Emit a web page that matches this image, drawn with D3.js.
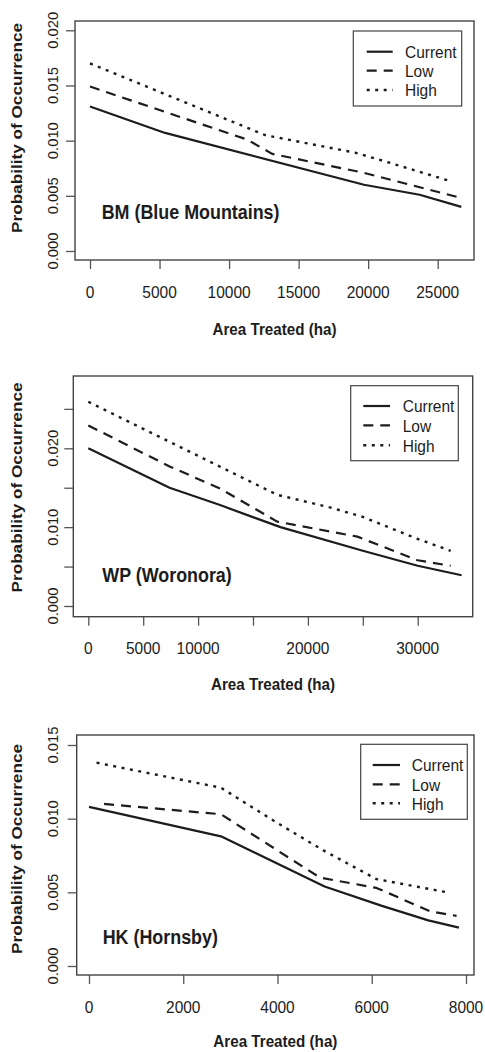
<!DOCTYPE html>
<html><head><meta charset="utf-8">
<script src="https://cdn.jsdelivr.net/npm/d3@7"></script>
<style>html,body{margin:0;padding:0;background:#fff}</style>
</head><body>
<svg id="c" width="485" height="1052"></svg>
<script>
// ---------------- data ----------------
const seriesNames = ["Current", "Low", "High"];
const xTitle = "Area Treated (ha)";
const yTitle = "Probability of Occurrence";

// BM (Blue Mountains)
const bmLabel = "BM (Blue Mountains)";
const bmXTicks = [0, 5000, 10000, 15000, 20000, 25000];
const bmXLabels = ["0", "5000", "10000", "15000", "20000", "25000"];
const bmYTicks = [0, 0.005, 0.010, 0.015, 0.020];
const bmYLabels = ["0.000", "0.005", "0.010", "0.015", "0.020"];
const bmCurrentX = [0, 5400, 19700, 23700, 26700];
const bmCurrentY = [0.0131, 0.0107, 0.0060, 0.0051, 0.0040];
const bmLowX = [0, 11300, 13100, 19650, 26400];
const bmLowY = [0.0149, 0.0101, 0.0088, 0.0071, 0.0049];
const bmHighX = [0, 12600, 19100, 21000, 26000];
const bmHighY = [0.0170, 0.0105, 0.0089, 0.0082, 0.0063];

// WP (Woronora)
const wpLabel = "WP (Woronora)";
const wpXTicks = [0, 5000, 10000, 15000, 20000, 25000, 30000];
const wpXLabels = ["0", "5000", "10000", "", "20000", "", "30000"];
const wpYTicks = [0, 0.005, 0.010, 0.015, 0.020, 0.025];
const wpYLabels = ["0.000", "", "0.010", "", "0.020", ""];
const wpCurrentX = [0, 7400, 12000, 17500, 25000, 30000, 34000];
const wpCurrentY = [0.0200, 0.0150, 0.0128, 0.0100, 0.0070, 0.0051, 0.0039];
const wpLowX = [0, 7400, 12000, 17200, 24500, 30000, 33000];
const wpLowY = [0.0229, 0.0177, 0.0149, 0.0107, 0.0088, 0.0058, 0.0051];
const wpHighX = [0, 17200, 22000, 25000, 30000, 33000];
const wpHighY = [0.0259, 0.0141, 0.0125, 0.0113, 0.0085, 0.0070];

// HK (Hornsby)
const hkLabel = "HK (Hornsby)";
const hkXTicks = [0, 2000, 4000, 6000, 8000];
const hkXLabels = ["0", "2000", "4000", "6000", "8000"];
const hkYTicks = [0, 0.005, 0.010, 0.015];
const hkYLabels = ["0.000", "0.005", "0.010", "0.015"];
const hkCurrentX = [0, 2800, 5000, 6200, 7200, 7850];
const hkCurrentY = [0.0108, 0.0088, 0.0054, 0.0041, 0.0031, 0.0026];
const hkLowX = [320, 2800, 4900, 6100, 7250, 7800];
const hkLowY = [0.0110, 0.0103, 0.0060, 0.0053, 0.0037, 0.0034];
const hkHighX = [160, 2800, 4000, 5000, 6100, 7600];
const hkHighY = [0.0138, 0.0121, 0.0097, 0.0078, 0.0059, 0.0050];

// ---------------- layout ----------------
const panels = [
  { label: bmLabel, xTicks: bmXTicks, xLabels: bmXLabels, yTicks: bmYTicks, yLabels: bmYLabels,
    series: [[bmCurrentX, bmCurrentY], [bmLowX, bmLowY], [bmHighX, bmHighY]],
    box: {l: 75, r: 474, t: 21, b: 260},
    xd: [0, 25000], xr: [90, 437.7], yd: [0, 0.020], yr: [251, 30.3],
    leg: {l: 353.3, r: 461.7, t: 31, b: 106, ys: [51.7, 70.7, 90], x1: 366.7, x2: 392.7, tx: 405},
    lab: {x: 101.7, y: 219.3}, ytitleY: 128, xtitleY: 335 },
  { label: wpLabel, xTicks: wpXTicks, xLabels: wpXLabels, yTicks: wpYTicks, yLabels: wpYLabels,
    series: [[wpCurrentX, wpCurrentY], [wpLowX, wpLowY], [wpHighX, wpHighY]],
    box: {l: 73.3, r: 472.7, t: 376, b: 616.7},
    xd: [0, 30000], xr: [88.3, 417.7], yd: [0, 0.020], yr: [606, 448.3],
    leg: {l: 350.7, r: 458.3, t: 385.7, b: 460.7, ys: [406, 425.3, 445.3], x1: 363.3, x2: 390, tx: 402.7},
    lab: {x: 102.3, y: 581.7}, ytitleY: 487.5, xtitleY: 690 },
  { label: hkLabel, xTicks: hkXTicks, xLabels: hkXLabels, yTicks: hkYTicks, yLabels: hkYLabels,
    series: [[hkCurrentX, hkCurrentY], [hkLowX, hkLowY], [hkHighX, hkHighY]],
    box: {l: 76.7, r: 474, t: 735, b: 975},
    xd: [0, 8000], xr: [89, 466], yd: [0, 0.015], yr: [966, 745],
    leg: {l: 360.7, r: 467.3, t: 744.3, b: 819.3, ys: [765, 784.3, 803.3], x1: 372.7, x2: 400, tx: 411.7},
    lab: {x: 102.7, y: 944}, ytitleY: 849, xtitleY: 1046.5 }
];

const styles = [
  {dash: null, w: 2.2},
  {dash: "10,7", w: 2.2},
  {dash: "3,5.5", w: 2.4}
];

const FONT = "'Liberation Sans', Arial, Helvetica, sans-serif";
const INK = "#1c1c1c";
const SY = 1.12;
const svg = d3.select("#c");

function hText(g, x, y, s, size, weight, anchor, sy) {
  return g.append("text")
    .attr("transform", `translate(${x},${y}) scale(1,${sy})`)
    .attr("font-family", FONT).attr("font-size", size)
    .attr("font-weight", weight).attr("text-anchor", anchor)
    .attr("fill", INK).text(s);
}
function vText(g, x, y, s, size, weight, len) {
  const t = g.append("text")
    .attr("transform", `translate(${x},${y}) rotate(-90)`)
    .attr("font-family", FONT).attr("font-size", size)
    .attr("font-weight", weight).attr("text-anchor", "middle")
    .attr("fill", INK).text(s);
  if (len) t.attr("textLength", len).attr("lengthAdjust", "spacingAndGlyphs");
  return t;
}

panels.forEach(p => {
  const g = svg.append("g");
  const x = d3.scaleLinear().domain(p.xd).range(p.xr);
  const y = d3.scaleLinear().domain(p.yd).range(p.yr);

  // x axis ticks
  const xa = g.append("g").attr("transform", `translate(0,${p.box.b})`)
    .call(d3.axisBottom(x).tickValues(p.xTicks).tickSize(9).tickFormat(""));
  xa.select(".domain").remove();
  xa.selectAll("line").attr("stroke", "#555").attr("stroke-width", 1.3);
  p.xTicks.forEach((t, i) => {
    if (p.xLabels[i]) hText(g, x(t), p.box.b + 37.5, p.xLabels[i], 15.5, "normal", "middle", SY);
  });

  // y axis ticks
  const ya = g.append("g").attr("transform", `translate(${p.box.l},0)`)
    .call(d3.axisLeft(y).tickValues(p.yTicks).tickSize(9).tickFormat(""));
  ya.select(".domain").remove();
  ya.selectAll("line").attr("stroke", "#555").attr("stroke-width", 1.3);
  p.yTicks.forEach((t, i) => {
    if (p.yLabels[i]) vText(g, 58, y(t), p.yLabels[i], 15.5, "normal", 37);
  });

  // box
  g.append("rect").attr("x", p.box.l).attr("y", p.box.t)
    .attr("width", p.box.r - p.box.l).attr("height", p.box.b - p.box.t)
    .attr("fill", "none").attr("stroke", "#444").attr("stroke-width", 1.4);

  // lines
  const line = d3.line().x(d => x(d[0])).y(d => y(d[1]));
  p.series.forEach((s, i) => {
    const pts = s[0].map((v, j) => [v, s[1][j]]);
    g.append("path").datum(pts).attr("d", line)
      .attr("fill", "none").attr("stroke", INK)
      .attr("stroke-width", styles[i].w)
      .attr("stroke-dasharray", styles[i].dash)
      .attr("stroke-linejoin", "round");
  });

  // legend
  const L = p.leg;
  g.append("rect").attr("x", L.l).attr("y", L.t).attr("width", L.r - L.l).attr("height", L.b - L.t)
    .attr("fill", "#fff").attr("stroke", "#444").attr("stroke-width", 1.2);
  seriesNames.forEach((n, i) => {
    g.append("line").attr("x1", L.x1).attr("x2", L.x2).attr("y1", L.ys[i]).attr("y2", L.ys[i])
      .attr("stroke", INK).attr("stroke-width", styles[i].w)
      .attr("stroke-dasharray", styles[i].dash);
    hText(g, L.tx, L.ys[i] + 6.3, n, 15.5, "normal", "start", SY);
  });

  // region label
  hText(g, p.lab.x, p.lab.y, p.label, 17.9, "bold", "start", 1.08);

  // axis titles
  hText(g, (p.box.l + p.box.r) / 2, p.xtitleY, xTitle, 15.2, "bold", "middle", SY);
  vText(g, 22, p.ytitleY, yTitle, 15.2, "bold", 210);
});
</script>
</body></html>
